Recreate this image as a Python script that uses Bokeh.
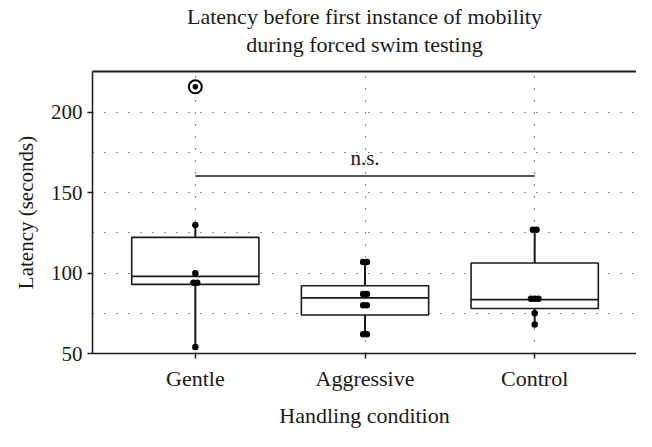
from bokeh.plotting import figure
from bokeh.models import (Range1d, FixedTicker, LinearAxis, Title, ColumnDataSource)
from bokeh.core.properties import value
from bokeh.embed import file_html
from bokeh.resources import INLINE

# ---- data ----
categories = ["Gentle", "Aggressive", "Control"]
q1 = [93, 74, 78]
median = [98, 84.6, 83.5]
q3 = [122.3, 92.2, 106.3]
whisker_low = [54, 62, 68]
whisker_high = [130, 107, 127]
gentle_points = [130, 100, 94, 94, 54]
aggressive_points = [107, 107, 87, 87, 80, 80, 62, 62]
control_points = [127, 127, 84, 84, 84, 75, 68]
gentle_outliers = [216]
sig_label = "n.s."
sig_level = 160.5
y_ticks = [50, 100, 150, 200]
y_grid = [75, 100, 125, 150, 175, 200]
title_lines = ["Latency before first instance of mobility", "during forced swim testing"]

FONT = "Liberation Serif"
INK = "#1a1a1a"
FS = "22px"

xpos = [i + 1 for i in range(len(categories))]

p = figure(width=636, height=431, output_backend="svg", toolbar_location=None,
           x_range=Range1d(0.394, 3.6), y_range=Range1d(50, 225.5),
           min_border_left=92, min_border_right=0, min_border_top=71,
           min_border_bottom=78, title=None)
p.outline_line_color = None
p.background_fill_color = "white"
p.border_fill_color = "white"

# grid
p.xgrid.ticker = FixedTicker(ticks=xpos)
p.ygrid.ticker = FixedTicker(ticks=y_grid)
for g in (p.xgrid, p.ygrid):
    g.grid_line_color = "#222222"
    g.grid_line_dash = "1 11"
    g.grid_line_width = 1.2

# axes
bottom = p.below[0]
left = p.left[0]
bottom.ticker = FixedTicker(ticks=xpos)
bottom.major_label_overrides = {x: c for x, c in zip(xpos, categories)}
left.ticker = FixedTicker(ticks=y_ticks)
for ax in (bottom, left):
    ax.axis_line_color = INK
    ax.axis_line_width = 1.5
    ax.major_tick_line_color = INK
    ax.major_tick_line_width = 1.5
    ax.major_tick_out = 5
    ax.major_tick_in = 0
    ax.minor_tick_line_color = None
    ax.major_label_text_font = FONT
    ax.major_label_text_font_size = FS
    ax.major_label_text_color = INK
    ax.axis_label_text_font = FONT
    ax.axis_label_text_font_size = FS
    ax.axis_label_text_font_style = "normal"
    ax.axis_label_text_color = INK
left.major_label_text_font_size = "21px"
left.axis_label_text_font_size = "21px"
bottom.axis_label = "Handling condition"
left.axis_label = "Latency (seconds)"
bottom.major_label_standoff = 7
bottom.axis_label_standoff = 9
left.major_label_standoff = 5
left.axis_label_standoff = 10

# top frame line (added first so it sits on the frame); its blank label spaces the titles
top = LinearAxis(ticker=FixedTicker(ticks=[]), major_label_text_font_size="0px",
                 major_label_standoff=0, axis_line_color=INK, axis_line_width=2,
                 major_tick_line_color=None, minor_tick_line_color=None,
                 axis_label=" ", axis_label_text_font_size="10px", axis_label_standoff=0)
p.add_layout(top, "above")

# titles: first added sits closest to the frame
p.add_layout(Title(text=title_lines[1], align="center", text_font=FONT, text_font_size=FS,
                   text_font_style="normal", text_color=INK, standoff=2), "above")
p.add_layout(Title(text=title_lines[0], align="center", text_font=FONT, text_font_size=FS,
                   text_font_style="normal", text_color=INK, standoff=0), "above")

# whiskers
p.segment(x0=xpos, y0=whisker_low, x1=xpos, y1=whisker_high, line_color=INK, line_width=2)
# boxes
box_src = ColumnDataSource(dict(x=xpos, q1=q1, q3=q3, med=median))
p.vbar(x="x", width=0.75, bottom="q1", top="q3", source=box_src,
       fill_color="white", line_color=INK, line_width=1.6)
p.segment(x0=[x - 0.375 for x in xpos], y0=median, x1=[x + 0.375 for x in xpos], y1=median,
          line_color=INK, line_width=1.6)

# points with side-by-side offsets for duplicates
step = 0.022
px, py = [], []
for x, pts in zip(xpos, [gentle_points, aggressive_points, control_points]):
    counts = {}
    for v in pts:
        counts[v] = counts.get(v, 0) + 1
    for v, n in counts.items():
        for k in range(n):
            px.append(x + (k - (n - 1) / 2) * step)
            py.append(v)
p.scatter(px, py, size=6.5, fill_color="black", line_color=None)

# outlier
p.scatter([xpos[0]] * len(gentle_outliers), gentle_outliers, size=13, fill_color=None,
          line_color="black", line_width=2)
p.scatter([xpos[0]] * len(gentle_outliers), gentle_outliers, size=5.5, fill_color="black",
          line_color=None)

# significance bar
p.segment(x0=[xpos[0]], y0=[sig_level], x1=[xpos[2]], y1=[sig_level], line_color=INK,
          line_width=1.6)
p.text(x=[xpos[1]], y=[sig_level + 4], text=[sig_label], text_font=value(FONT),
       text_font_size="21px", text_align="center", text_baseline="bottom", text_color=INK)

open("out.html", "w").write(file_html(p, INLINE))
